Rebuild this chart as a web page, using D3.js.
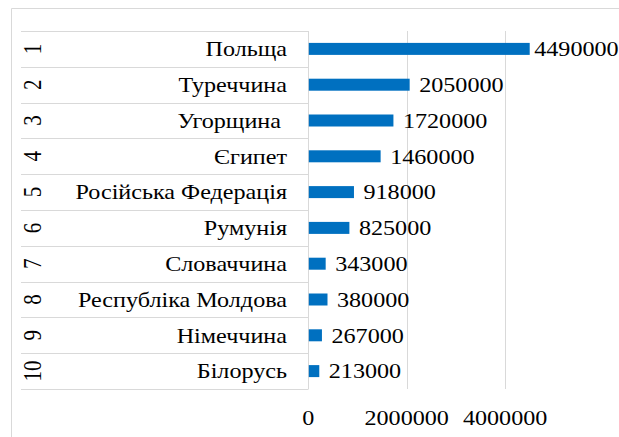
<!DOCTYPE html>
<html>
<head>
<meta charset="utf-8">
<script src="https://cdn.jsdelivr.net/npm/d3@7"></script>
<style>
  body { margin: 0; background: #fff; }
</style>
</head>
<body>
<div class="graph"></div>
<script>
// data
var ranks = ["1", "2", "3", "4", "5", "6", "7", "8", "9", "10"];
var countries = ["Польща", "Туреччина", "Угорщина ", "Єгипет", "Російська Федерація",
    "Румунія", "Словаччина", "Республіка Молдова", "Німеччина", "Білорусь"];
var values = [4490000, 2050000, 1720000, 1460000, 918000, 825000, 343000, 380000, 267000, 213000];
var xTicks = [0, 2000000, 4000000];

var data = ranks.map((r, i) => ({ rank: r, name: countries[i], value: values[i] }));

var width = 619, height = 437;
var plot = { left: 308.3, top: 31, bottom: 389 };
var catLeft = 21;
var font = "'Liberation Serif', 'Times New Roman', 'DejaVu Serif', serif";

var svg = d3.select(".graph").append("svg")
    .attr("width", width)
    .attr("height", height)
    .attr("font-family", font);

// chart frame (only top and left are inside the picture)
svg.append("path")
    .attr("d", `M11.5,${height} V8.5 H${width}`)
    .attr("fill", "none")
    .attr("stroke", "#d9d9d9")
    .attr("stroke-width", 1);

var x = d3.scaleLinear().domain([0, 2000000]).range([plot.left, 406.7]);
var y = d3.scaleBand().domain(ranks).range([plot.top, plot.bottom]);

// vertical gridlines
svg.append("g")
    .selectAll("line")
    .data(xTicks)
    .join("line")
    .attr("x1", (d) => Math.round(x(d)) + 0.5)
    .attr("x2", (d) => Math.round(x(d)) + 0.5)
    .attr("y1", plot.top)
    .attr("y2", plot.bottom)
    .attr("stroke", "#d9d9d9");

// category separators
var seps = ranks.map((r) => y(r)).concat([plot.bottom]);
svg.append("g")
    .selectAll("line")
    .data(seps)
    .join("line")
    .attr("x1", catLeft)
    .attr("x2", Math.round(x(0)) + 0.5)
    .attr("y1", (d) => Math.round(d) + 0.5)
    .attr("y2", (d) => Math.round(d) + 0.5)
    .attr("stroke", "#d9d9d9");

var barH = 12;
svg.append("g")
    .selectAll("rect")
    .data(data)
    .join("rect")
    .attr("x", x(0) + 0.5)
    .attr("y", (d) => y(d.rank) + y.bandwidth() / 2 - barH / 2)
    .attr("width", (d) => x(d.value) - x(0))
    .attr("height", barH)
    .attr("fill", "#0070c0");

var fs = 21, sx = 1.15;

// value labels
svg.append("g")
    .selectAll("text")
    .data(data)
    .join("text")
    .attr("transform", (d) => `translate(${x(d.value) + (d.rank === "1" ? 5 : 10)},${y(d.rank) + y.bandwidth() / 2}) scale(${sx},1)`)
    .attr("dy", "0.35em")
    .attr("font-size", fs)
    .text((d) => d.value);

// country names
svg.append("g")
    .selectAll("text")
    .data(data)
    .join("text")
    .attr("transform", (d) => `translate(287,${y(d.rank) + y.bandwidth() / 2}) scale(${sx},1)`)
    .attr("dy", "0.35em")
    .attr("text-anchor", "end")
    .attr("font-size", fs)
    .style("white-space", "pre")
    .text((d) => d.name);

// rank numbers, rotated
svg.append("g")
    .selectAll("text")
    .data(data)
    .join("text")
    .attr("transform", (d) => `translate(33,${y(d.rank) + y.bandwidth() / 2}) rotate(-90) scale(1,${sx})`)
    .attr("dy", "0.35em")
    .attr("text-anchor", "middle")
    .attr("font-size", fs)
    .text((d) => d.rank);

// x axis labels
svg.append("g")
    .selectAll("text")
    .data(xTicks)
    .join("text")
    .attr("transform", (d) => `translate(${x(d)},418) scale(${sx},1)`)
    .attr("dy", "0.35em")
    .attr("text-anchor", "middle")
    .attr("font-size", fs)
    .text((d) => d);
</script>
</body>
</html>
